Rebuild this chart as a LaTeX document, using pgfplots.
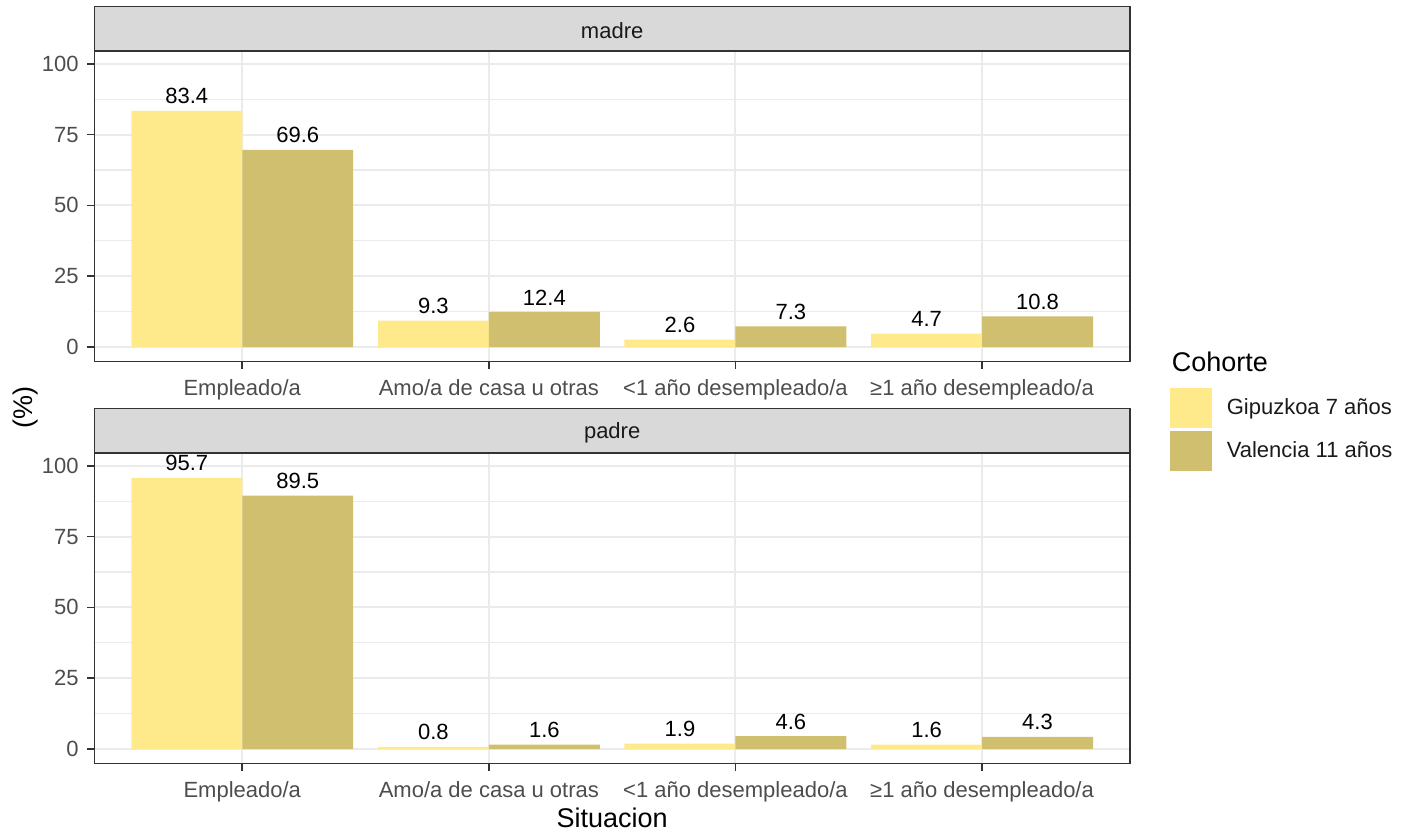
\documentclass[border=0pt]{standalone}
\usepackage{fontspec}
\setmainfont{Liberation Sans}
\usepackage{pgfplots}
\pgfplotsset{compat=1.18}
\definecolor{gip}{HTML}{FEEA8A}
\definecolor{val}{HTML}{CFBF6F}
\definecolor{gtwenty}{HTML}{333333}
\definecolor{gthirty}{HTML}{4D4D4D}
\definecolor{gten}{HTML}{1A1A1A}
\definecolor{gridc}{HTML}{EBEBEB}
\definecolor{stripc}{HTML}{D9D9D9}
\newcommand{\fsz}{\fontsize{11}{13}\selectfont}
\newcommand{\fszt}{\fontsize{13.5}{16}\selectfont}
\pgfplotsset{
  facet/.style={
    scale only axis, width=517.85pt, height=155.1pt,
    anchor=south west,
    xmin=-0.6, xmax=3.6, ymin=-5.1, ymax=104.4,
    xtick={0,1,2,3},
    xticklabels={Empleado/a, Amo/a de casa u otras, <1 año desempleado/a, ≥1 año desempleado/a},
    ytick={0,25,50,75,100},
    minor ytick={12.5,37.5,62.5,87.5},
    grid=both,
    major grid style={draw=gridc, line width=1pt},
    minor grid style={draw=gridc, line width=0.55pt},
    axis line style={draw=gtwenty, line width=0.8pt},
    tick style={draw=gtwenty, line width=0.8pt},
    tick align=outside, major tick length=3.7pt, minor tick length=0pt,
    xtick pos=bottom, ytick pos=left,
    ticklabel style={font=\fsz, text=gthirty},
    xticklabel style={anchor=north, inner sep=0pt, yshift=-5.2pt},
    yticklabel style={anchor=east, inner sep=0pt, xshift=-4pt},
    /pgf/number format/assume math mode=true,
    clip=false,
    nodes near coords,
    point meta=explicit symbolic,
    every node near coord/.style={anchor=south, inner sep=0pt, yshift=3.2pt, font=\fsz, text=black},
  },
  gbar/.style={ybar, bar width=0.45, bar shift=-0.225, fill=gip, draw=none,
    every node near coord/.append style={xshift=-27.74pt}},
  vbar/.style={ybar, bar width=0.45, bar shift=0.225, fill=val, draw=none,
    every node near coord/.append style={xshift=27.74pt}},
}
\begin{document}
\begin{tikzpicture}
\useasboundingbox (0,0) rectangle (705.5pt,416.5pt);
% top panel: madre
\begin{axis}[facet, at={(47.15pt,235.75pt)},
  legend style={draw=none, fill=none, at={(1.0386,-0.0854)}, anchor=north west,
    inner sep=0pt, outer sep=0pt, row sep=1.5pt, column sep=7.5pt,
    nodes={inner sep=0pt, font=\fsz, text=gten}},
  legend cell align=left]
\addlegendimage{legend image code/.code={\fill[gip] (0pt,-9.75pt) rectangle (20.5pt,9.75pt);}}
\addlegendentry{Gipuzkoa 7 años}
\addlegendimage{legend image code/.code={\fill[val] (0pt,-9.75pt) rectangle (20.5pt,9.75pt);}}
\addlegendentry{Valencia 11 años}
\addplot[gbar, forget plot] coordinates {(0,83.4)[83.4] (1,9.3)[9.3] (2,2.6)[2.6] (3,4.7)[4.7]};
\addplot[vbar, forget plot] coordinates {(0,69.6)[69.6] (1,12.4)[12.4] (2,7.3)[7.3] (3,10.8)[10.8]};
\draw[fill=stripc, draw=gtwenty, line width=0.8pt] (rel axis cs:0,1) rectangle ([yshift=22.3pt]rel axis cs:1,1);
\node[font=\fsz, text=gten] at ([yshift=10.2pt]rel axis cs:0.5,1) {madre};
\node[anchor=west, inner sep=0pt, font=\fszt, text=black] at (rel axis cs:1.0401,0) {Cohorte};
\end{axis}
% bottom panel: padre
\begin{axis}[facet, at={(47.15pt,34.75pt)}]
\addplot[gbar] coordinates {(0,95.7)[95.7] (1,0.8)[0.8] (2,1.9)[1.9] (3,1.6)[1.6]};
\addplot[vbar] coordinates {(0,89.5)[89.5] (1,1.6)[1.6] (2,4.6)[4.6] (3,4.3)[4.3]};
\draw[fill=stripc, draw=gtwenty, line width=0.8pt] (rel axis cs:0,1) rectangle ([yshift=22.3pt]rel axis cs:1,1);
\node[font=\fsz, text=gten] at ([yshift=10.2pt]rel axis cs:0.5,1) {padre};
\end{axis}
\node[rotate=90, font=\fszt, text=black] at (12.75pt,212.75pt) {(\%)};
\node[font=\fszt, text=black] at (306.1pt,7.5pt) {Situacion};
\end{tikzpicture}
\end{document}
